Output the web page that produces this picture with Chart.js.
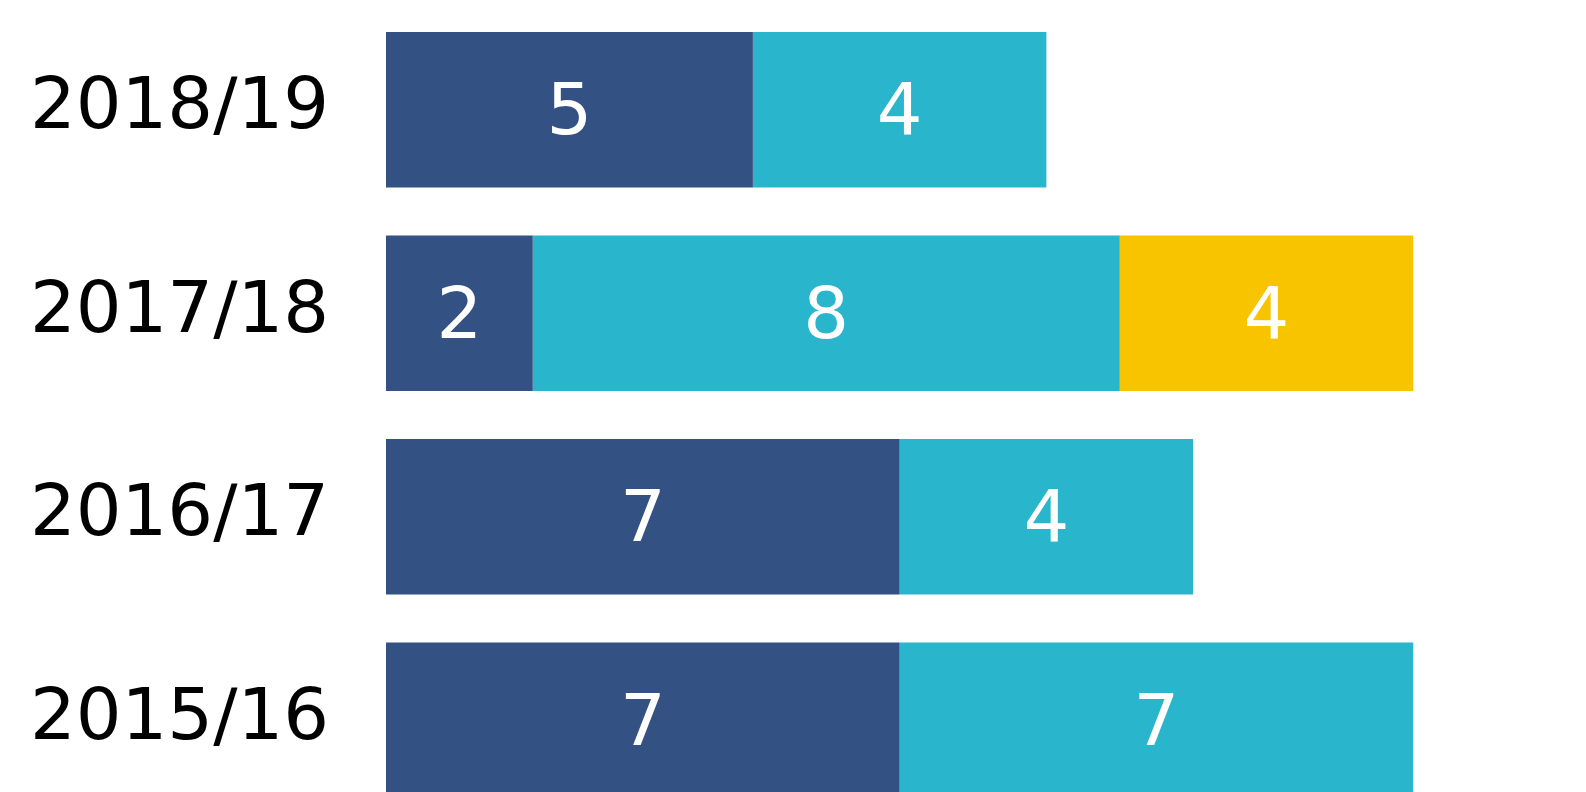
<!DOCTYPE html>
<html>
<head>
<meta charset="utf-8">
<script src="https://cdn.jsdelivr.net/npm/chart.js@4/dist/chart.umd.min.js"></script>
<style>
  html, body { margin: 0; padding: 0; background: #fff; overflow: hidden; }
  #wrap { width: 1586px; height: 822px; }
</style>
</head>
<body>
<div id="wrap"><canvas id="grafico"></canvas></div>
<script>
var anni = ["2018/19", "2017/18", "2016/17", "2015/16"];
var serieBlu = [5, 2, 7, 7];
var serieAzzurra = [4, 8, 4, 7];
var serieGialla = [0, 4, 0, 0];

// etichette bianche al centro di ogni barra
var etichetteBarre = {
  id: 'etichetteBarre',
  afterDatasetsDraw: function(chart){
    var ctx = chart.ctx;
    ctx.save();
    ctx.fillStyle = '#ffffff';
    ctx.font = '72px "DejaVu Sans"';
    ctx.textAlign = 'center';
    ctx.textBaseline = 'middle';
    chart.data.datasets.forEach(function(ds, i){
      var meta = chart.getDatasetMeta(i);
      meta.data.forEach(function(bar, j){
        var v = ds.data[j];
        if (!v) return;
        var p = bar.getProps(['x', 'y', 'base'], true);
        ctx.fillText(String(v), (p.x + p.base) / 2, p.y + 6);
      });
    });
    ctx.restore();
  }
};

var chart = new Chart(document.getElementById('grafico'), {
  type: 'bar',
  data: {
    labels: anni,
    datasets: [
      { data: serieBlu, backgroundColor: '#345183' },
      { data: serieAzzurra, backgroundColor: '#29B6CD' },
      { data: serieGialla, backgroundColor: '#F8C400' }
    ]
  },
  options: {
    indexAxis: 'y',
    responsive: true,
    maintainAspectRatio: false,
    animation: false,
    categoryPercentage: 0.763,
    barPercentage: 1,
    layout: { padding: { top: 8, right: 26, bottom: 0, left: 0 } },
    plugins: { legend: { display: false }, tooltip: { enabled: false } },
    scales: {
      x: { display: false, stacked: true, min: 0, max: 16 },
      y: {
        stacked: true,
        grid: { display: false, drawTicks: false },
        border: { display: false },
        ticks: { color: '#000', padding: 57, font: { family: 'DejaVu Sans', size: 72 } },
        afterFit: function(scale){
          scale.width = 386;
          scale.paddingTop = 0;
          scale.paddingBottom = 0;
        }
      }
    }
  },
  plugins: [etichetteBarre]
});
</script>
</body>
</html>
